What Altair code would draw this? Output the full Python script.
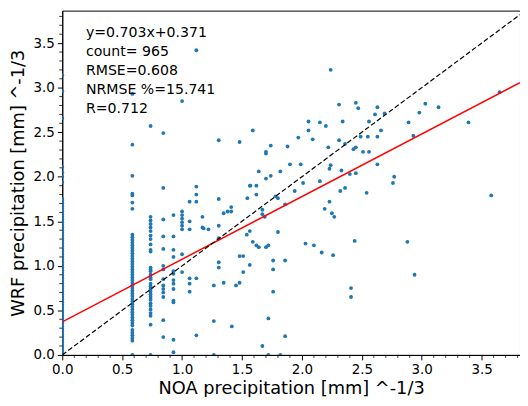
import altair as alt
import pandas as pd

# ---- data ----
# dense columns (NOA values are discrete)
col_x = [0.0, 0.585, 0.737, 0.843, 0.928, 1.0, 1.063, 1.119]
col_y = [
    # x = 0.0
    [0.00, 0.02, 0.05, 0.08, 0.11, 0.14, 0.17, 0.20, 0.23, 0.26, 0.29, 0.32, 0.35,
     0.38, 0.41, 0.44, 0.47, 0.50, 0.53, 0.56, 0.59, 0.62, 0.65, 0.68, 0.71, 0.74,
     0.77, 0.80, 0.83, 0.86, 0.89, 0.92, 0.95, 0.98, 1.01, 1.04, 1.07, 1.10, 1.13,
     1.16, 1.19, 1.22, 1.25, 1.28, 1.31, 1.34, 1.37, 1.40, 1.43, 1.46, 1.49, 1.52,
     1.55, 1.58, 1.61, 1.64, 1.67, 1.70, 1.73, 1.75, 1.94, 2.00, 2.05, 2.11, 2.66,
     2.96, 3.14],
    # x = 0.585
    [2.93, 2.36, 2.01, 1.81, 1.79, 1.71, 1.64, 1.35, 1.32, 1.29, 1.26, 1.23, 1.20,
     1.17, 1.14, 1.11, 1.08, 1.05, 1.02, 0.99, 0.96, 0.93, 0.90, 0.87, 0.84, 0.81,
     0.78, 0.75, 0.72, 0.69, 0.66, 0.63, 0.60, 0.57, 0.54, 0.51, 0.48, 0.45, 0.42,
     0.39, 0.36, 0.33, 0.28, 0.25, 0.22, 0.19, 0.16, 0.00],
    # x = 0.737
    [2.57, 1.55, 1.51, 1.47, 1.43, 1.39, 1.34, 1.30, 1.24, 1.18, 1.16, 0.98, 0.96,
     0.94, 0.90, 0.87, 0.85, 0.80, 0.77, 0.74, 0.71, 0.68, 0.65, 0.62, 0.58, 0.55,
     0.51, 0.47, 0.44, 0.34, 0.00],
    # x = 0.843
    [2.49, 1.875, 1.52, 1.33, 1.19, 1.00, 0.96, 0.85, 0.78, 0.74, 0.70, 0.65, 0.39, 0.20],
    # x = 0.928
    [1.57, 1.33, 1.18, 1.10, 0.94, 0.91, 0.84, 0.80, 0.74, 0.61, 0.59, 0.17, 0.03],
    # x = 1.0
    [2.85, 1.61, 1.57, 1.53, 1.49, 1.45, 1.41, 1.13, 0.93],
    # x = 1.063
    [1.72, 1.50, 1.41, 0.86, 0.80, 0.71],
    # x = 1.119
    [3.42, 1.89, 1.80, 1.72, 0.86, 0.22],
]

# scattered points
sc_x = [1.17, 1.17, 1.18, 1.22, 1.265, 1.265, 1.265, 1.306, 1.306, 1.306, 1.306, 1.306,
        1.306, 1.347, 1.347, 1.38, 1.41, 1.41, 1.415, 1.45, 1.48, 1.48, 1.48, 1.51, 1.51,
        1.545, 1.54, 1.566, 1.565, 1.565, 1.59, 1.59, 1.62, 1.62, 1.62, 1.64, 1.64, 1.67,
        1.67, 1.69, 1.67, 1.70, 1.70, 1.70, 1.70, 1.72, 1.72, 1.72, 1.74, 1.74, 1.76, 1.76,
        1.76, 1.78, 1.80, 1.80, 1.82, 1.82, 1.86, 1.86, 1.86, 1.88, 1.90, 1.94, 1.97, 1.99,
        2.01, 2.03, 2.055, 2.055, 2.09, 2.10, 2.15, 2.15, 2.165, 2.19, 2.20, 2.22, 2.23,
        2.24, 2.24, 2.23, 2.25, 2.27, 2.26, 2.31, 2.31, 2.33, 2.34, 2.32, 2.36, 2.36, 2.40,
        2.41, 2.41, 2.43, 2.45, 2.45, 2.45, 2.47, 2.44, 2.49, 2.51, 2.54, 2.55, 2.56, 2.56,
        2.61, 2.63, 2.63, 2.63, 2.66, 2.69, 2.76, 2.77, 2.88, 2.89, 2.93, 2.94, 2.98, 3.03,
        3.14, 3.39, 3.58, 3.65, 1.57]
sc_y = [1.55, 1.43, 1.42, 1.41, 0.78, 0.38, 0.00, 2.41, 1.75, 1.45, 1.31, 1.04,
        0.98, 1.59, 0.81, 1.61, 1.61, 1.66, 0.32, 0.78, 2.39, 1.11, 0.81, 1.11, 0.93,
        1.76, 1.35, 1.90, 1.39, 1.01, 2.52, 1.27, 1.90, 1.80, 1.23, 2.06, 1.21, 1.63,
        1.58, 1.55, 0.10, 2.28, 2.26, 1.98, 1.21, 1.23, 0.41, 0.00, 2.35, 2.01, 1.06, 0.96,
        0.71, 1.78, 1.76, 1.38, 2.06, 0.00, 1.69, 1.06, 0.21, 2.34, 2.14, 1.84, 2.44, 2.14,
        1.93, 1.25, 2.62, 2.52, 2.42, 1.23, 2.61, 1.95, 1.15, 1.64, 2.57, 2.33, 1.72,
        3.20, 2.13, 2.09, 1.59, 1.55, 1.12, 2.81, 2.41, 2.07, 2.62, 1.84, 1.875, 2.37, 2.03,
        0.75, 0.65, 2.31, 2.33, 2.04, 2.83, 2.77, 1.28, 2.45, 2.28, 1.82, 2.45, 2.28, 2.62,
        2.70, 2.78, 2.45, 2.14, 2.52, 2.71, 1.93, 2.00, 1.27, 2.61, 2.46, 0.90, 2.72, 2.82,
        2.78, 2.61, 1.79, 2.95, 1.90]

slope = 0.703
intercept = 0.371
line_x = [0.0, 3.82]

stats_lines = ["y=0.703x+0.371", "count= 965", "RMSE=0.608", "NRMSE %=15.741", "R=0.712"]

major_ticks = [0.0, 0.5, 1.0, 1.5, 2.0, 2.5, 3.0, 3.5]
minor_ticks = [0.1, 0.2, 0.3, 0.4, 0.6, 0.7, 0.8, 0.9, 1.1, 1.2, 1.3, 1.4,
               1.6, 1.7, 1.8, 1.9, 2.1, 2.2, 2.3, 2.4, 2.6, 2.7, 2.8, 2.9,
               3.1, 3.2, 3.3, 3.4, 3.6, 3.7, 3.8]

# ---- build tables ----
px, py = [], []
for cx, ys in zip(col_x, col_y):
    px += [cx] * len(ys)
    py += ys
px += sc_x
py += sc_y
points = pd.DataFrame({"x": px, "y": py})

fit = pd.DataFrame({"x": line_x, "y": [slope * v + intercept for v in line_x]})
one = pd.DataFrame({"x": line_x, "y": line_x})
minor = pd.DataFrame({"v": minor_ticks})

H = 349
xs = alt.Scale(domain=[0, 3.82], nice=False, zero=False)
ys_ = alt.Scale(domain=[0, 3.865], nice=False, zero=False)

x_axis = alt.Axis(values=major_ticks, format=".1f", tickSize=5,
                  title="NOA precipitation [mm] ^-1/3", labelOverlap=False,
                  labelFlush=False, labelPadding=3, titlePadding=4)
y_axis = alt.Axis(values=major_ticks, format=".1f", tickSize=5,
                  title="WRF precipitation [mm] ^-1/3", labelOverlap=False,
                  labelFlush=False, labelPadding=3, titlePadding=6)

pts = alt.Chart(points).mark_circle(size=15, color="#1f77b4", opacity=1, clip=True).encode(
    x=alt.X("x:Q", scale=xs, axis=x_axis),
    y=alt.Y("y:Q", scale=ys_, axis=y_axis),
)

fit_line = alt.Chart(fit).mark_line(color="#ff0000", strokeWidth=1.5, clip=True).encode(
    x=alt.X("x:Q", scale=xs), y=alt.Y("y:Q", scale=ys_)
)

one_line = alt.Chart(one).mark_line(color="black", strokeWidth=1.2, strokeDash=[5, 2.5],
                                     clip=True).encode(
    x=alt.X("x:Q", scale=xs), y=alt.Y("y:Q", scale=ys_)
)

minor_x = alt.Chart(minor).mark_rule(color="black", strokeWidth=0.8).encode(
    x=alt.X("v:Q", scale=xs), y=alt.value(H), y2=alt.value(H + 3)
)
minor_y = alt.Chart(minor).transform_filter("datum.v < 3.86").mark_rule(
    color="black", strokeWidth=0.8).encode(
    y=alt.Y("v:Q", scale=ys_), x=alt.value(0), x2=alt.value(-3)
)

txt = alt.Chart(pd.DataFrame({"a": [0]})).mark_text(
    align="left", baseline="top", fontSize=14.3, font="DejaVu Sans",
    color="black", lineHeight=19.2
).encode(x=alt.value(24), y=alt.value(15.5), text=alt.value(stats_lines))

chart = alt.layer(pts, fit_line, one_line, minor_x, minor_y, txt).properties(
    width=464, height=H,
    padding={"left": 55, "top": 0, "right": 0, "bottom": 40},
    autosize=alt.AutoSizeParams(type="none"),
).configure_view(
    stroke="black", strokeWidth=1
).configure_axis(
    grid=False, domainColor="black", tickColor="black", labelColor="black",
    titleColor="black", labelFont="DejaVu Sans", titleFont="DejaVu Sans",
    labelFontSize=13.6, titleFontSize=18, titleFontWeight="normal", tickWidth=1,
    domainWidth=1
)

chart.save("out.html", embed_options={"renderer": "svg", "actions": False})
